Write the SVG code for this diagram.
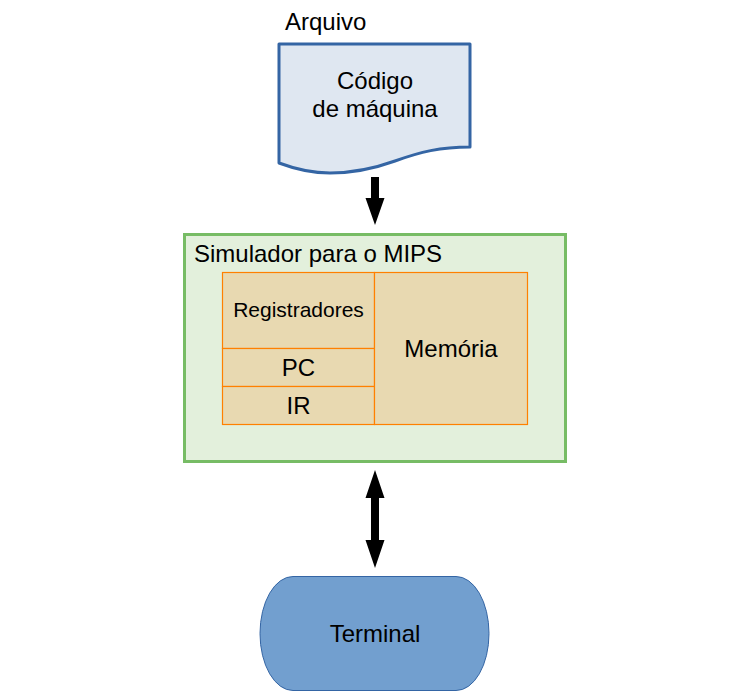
<svg xmlns="http://www.w3.org/2000/svg" width="753" height="699" viewBox="0 0 753 699">
<style>
text{font-family:"Liberation Sans",Arial,sans-serif;fill:#000;font-size:24px}
.c{text-anchor:middle}
.cell{fill:#e8d9b1;stroke:#ff8000;stroke-width:1.2}
.arrow{fill:#000}
</style>
<rect width="753" height="699" fill="#fff"/>
<g id="arquivo">
<text x="285" y="30">Arquivo</text>
<path d="M279,44 L470,44 L470,147 C440,147 420,152 395,161 C370,170 350,173 330,173 C310,173 295,169 279,163 Z" fill="#dfe7f1" stroke="#3465a4" stroke-width="3" stroke-linejoin="round"/>
<text class="c" x="375" y="89">Código</text>
<text class="c" x="375" y="117">de máquina</text>
</g>
<g id="simulador">
<rect x="184.5" y="234.5" width="381" height="227" fill="#e3f0dc" stroke="#77bc65" stroke-width="3"/>
<text x="194" y="262">Simulador para o MIPS</text>
</g>
<g id="registradores">
<rect class="cell" x="222.5" y="272.5" width="152" height="76"/>
<text class="c" x="298.5" y="317" style="font-size:21px">Registradores</text>
</g>
<g id="pc">
<rect class="cell" x="222.5" y="348.5" width="152" height="38"/>
<text class="c" x="298.5" y="376">PC</text>
</g>
<g id="ir">
<rect class="cell" x="222.5" y="386.5" width="152" height="38"/>
<text class="c" x="298.5" y="414">IR</text>
</g>
<g id="memoria">
<rect class="cell" x="374.5" y="272.5" width="153" height="152"/>
<text class="c" x="451" y="357">Memória</text>
</g>
<g id="terminal">
<path d="M293,576.5 L456,576.5 A33,57 0 0 1 456,690.5 L293,690.5 A33,57 0 0 1 293,576.5 Z" fill="#729fcf" stroke="#3465a4" stroke-width="1"/>
<text class="c" x="375" y="642">Terminal</text>
</g>
<g id="connectors">
<path class="arrow" d="M371,177 L379,177 L379,198 L384.5,198 L375,225 L365.5,198 L371,198 Z"/>
<path class="arrow" d="M375,470 L384.5,498 L379,498 L379,540 L384.5,540 L375,568 L365.5,540 L371,540 L371,498 L365.5,498 Z"/>
</g>
</svg>
